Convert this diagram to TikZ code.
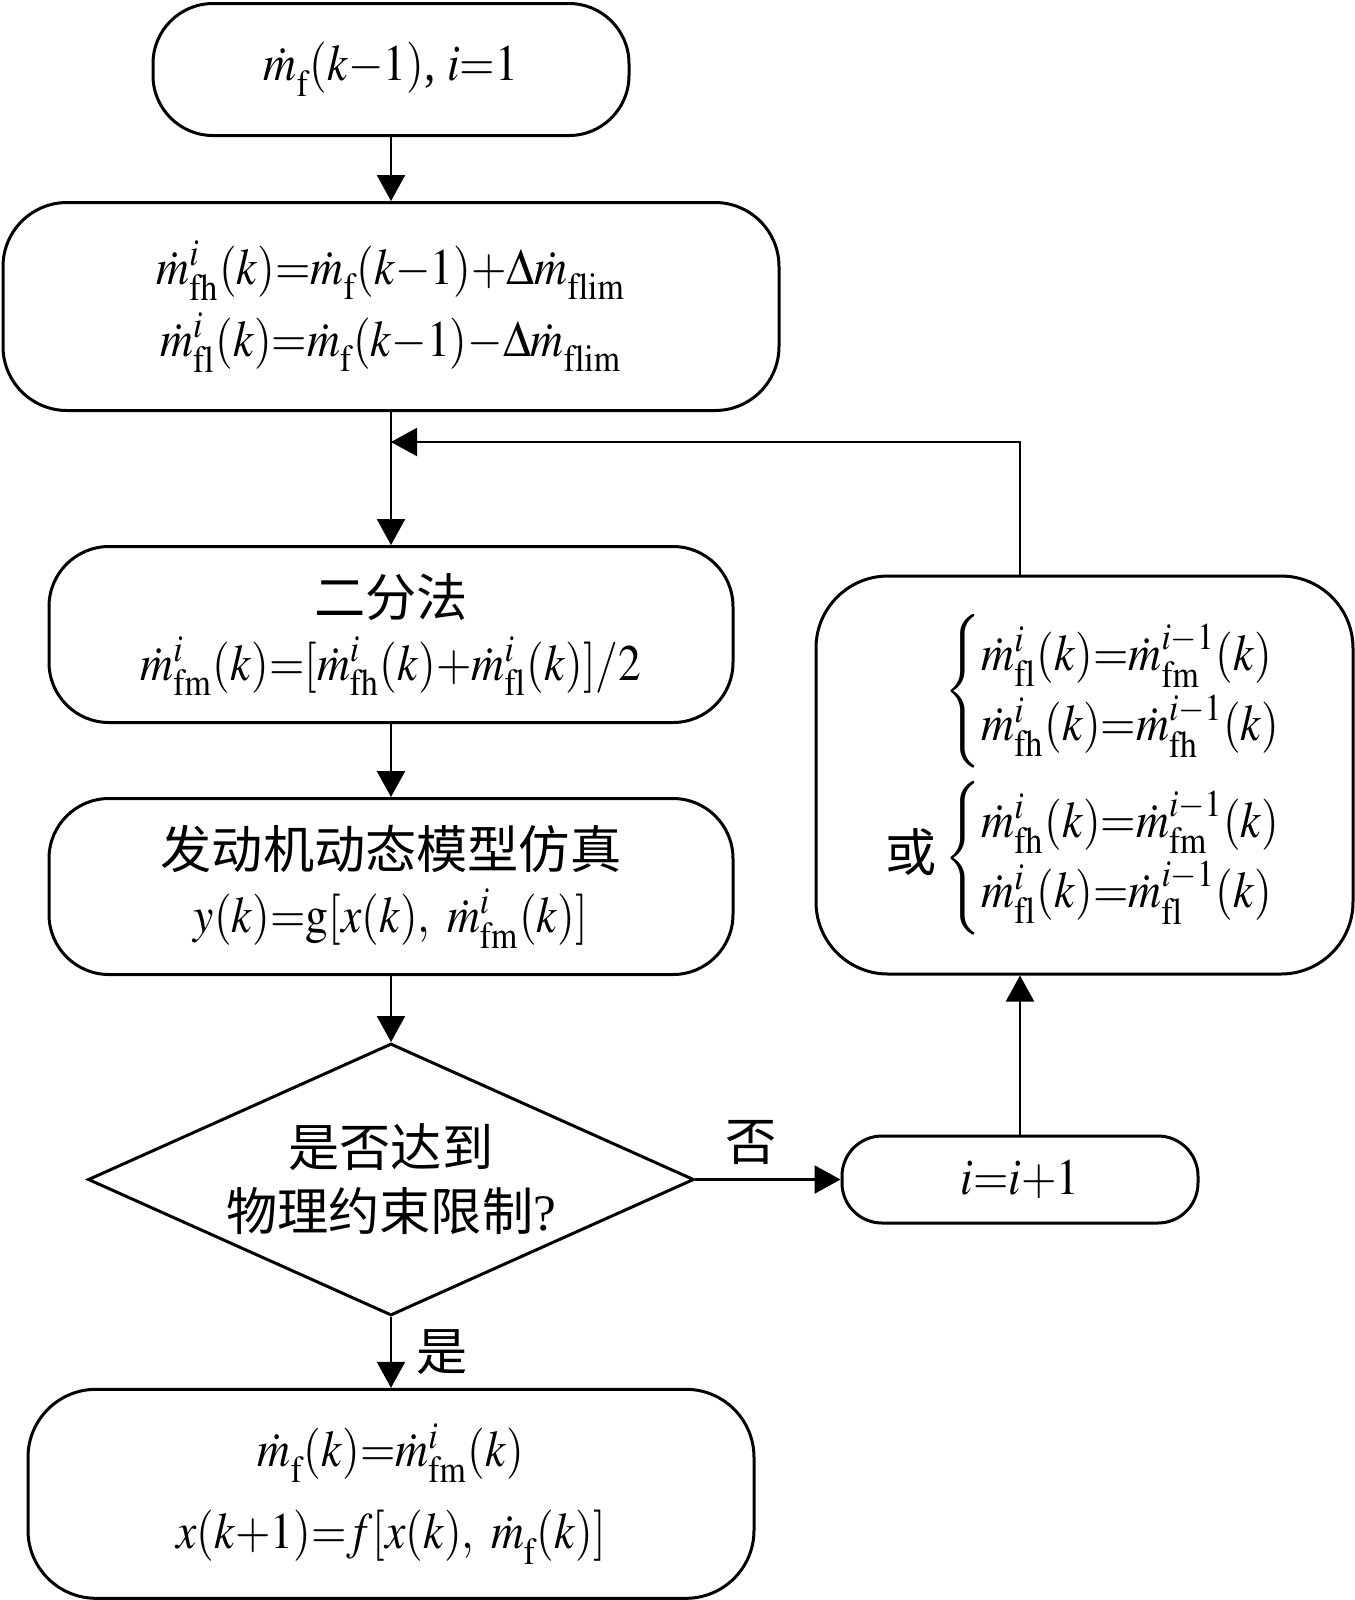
\documentclass[tikz,border=0pt]{standalone}
\usepackage{mathptmx}
\usepackage{fontspec}
\usepackage{graphicx}
\setmainfont{Liberation Serif}
\newfontfamily\cjk{Noto Sans CJK SC}
\usetikzlibrary{positioning,shapes.geometric,arrows.meta}

\newcommand{\mflow}[2][]{\dot{m}^{#1}_{\mathrm{#2}}}
\newcommand{\tightmath}{\thickmuskip=0mu\medmuskip=0mu}
\newcommand{\squeeze}[1]{\scalebox{0.89}[1]{#1}}

\tikzset{
  term/.style={draw, line width=0.75pt, rounded corners=15pt, align=center, inner sep=0pt},
  proc/.style={draw, line width=0.75pt, rounded corners=16pt, align=center, inner sep=0pt},
  decide/.style={draw, diamond, aspect=2.25, line width=0.75pt, align=center, inner sep=0pt},
  arr/.style={-{Triangle[length=6.5pt,width=7pt]}, line width=0.6pt},
}

\begin{document}
\begin{tikzpicture}[x=0.25pt, y=-0.25pt, font=\fontsize{12.8}{16}\selectfont\tightmath]
    \useasboundingbox (0,0) rectangle (1355,1600);
    % main column
    \node[term, minimum width=119pt, minimum height=33pt] (init) at (391,69.5)
      {\squeeze{$\mflow{f}(k-1)$, $i=1$}};
    \node[proc, minimum width=194pt, minimum height=52pt, below=16pt of init] (bound)
      {\squeeze{$\mflow[i]{fh}(k)=\mflow{f}(k-1)+\Delta\mflow{f{}lim}$}\\[2pt]
       \squeeze{$\mflow[i]{f{}l}(k)=\mflow{f}(k-1)-\Delta\mflow{f{}lim}$}};
    \node[proc, minimum width=171pt, minimum height=44pt, rounded corners=15pt, below=33.25pt of bound] (bisect)
      {{\cjk 二分法}\\ \squeeze{$\mflow[i]{fm}(k)=[\mflow[i]{fh}(k)+\mflow[i]{f{}l}(k)]/2$}};
    \node[proc, minimum width=171pt, minimum height=44pt, rounded corners=15pt, below=18.25pt of bisect] (sim)
      {{\cjk 发动机动态模型仿真}\\ \squeeze{$y(k)=\mathrm{g}[x(k),\ \mflow[i]{fm}(k)]$}};
    \node[decide, minimum width=151.5pt, minimum height=68pt, below=16.5pt of sim] (check)
      {{\cjk 是否达到}\\ {\cjk 物理约束限制}?};
    \node[proc, minimum width=181.5pt, minimum height=52.25pt, rounded corners=17pt, below=17.7pt of check] (update)
      {\squeeze{$\mflow{f}(k)=\mflow[i]{fm}(k)$}\\[4.5pt] \squeeze{$x(k+1)=f[x(k),\ \mflow{f}(k)]$}};
    % right branch
    \node[term, minimum width=89pt, minimum height=21.75pt, rounded corners=10pt, right=36.25pt of check] (incr)
      {\squeeze{$i=i+1$}};
    \node[proc, minimum width=134.25pt, minimum height=99.5pt, rounded corners=18pt] (narrow) at (1084.5,775)
      {\renewcommand{\arraystretch}{1.1}%
       \begin{tabular}{@{}r@{\,}l@{}}
         & \squeeze{$\left\{\begin{array}{@{}l@{}}\mflow[i]{f{}l}(k)=\mflow[i-1]{fm}(k)\\ \mflow[i]{fh}(k)=\mflow[i-1]{fh}(k)\end{array}\right.$}\\[14pt]
         {\cjk 或} & \squeeze{$\left\{\begin{array}{@{}l@{}}\mflow[i]{fh}(k)=\mflow[i-1]{fm}(k)\\ \mflow[i]{f{}l}(k)=\mflow[i-1]{f{}l}(k)\end{array}\right.$}
       \end{tabular}};
    \coordinate (join) at (391,442);
    % connectors
    \draw[arr] (init) -- (bound);
    \draw[arr] (bound) -- (bisect);
    \draw[arr] (bisect) -- (sim);
    \draw[arr] (sim) -- (check);
    \draw[arr] (check) -- node[right, inner sep=6pt] {\cjk 是} (update);
    \draw[arr] (check) -- node[above, inner sep=3.5pt, pos=0.38] {\cjk 否} (incr);
    \draw[arr] (incr) -- (incr |- narrow.south);
    \draw[arr] (incr |- narrow.north) |- (join);
\end{tikzpicture}
\end{document}
